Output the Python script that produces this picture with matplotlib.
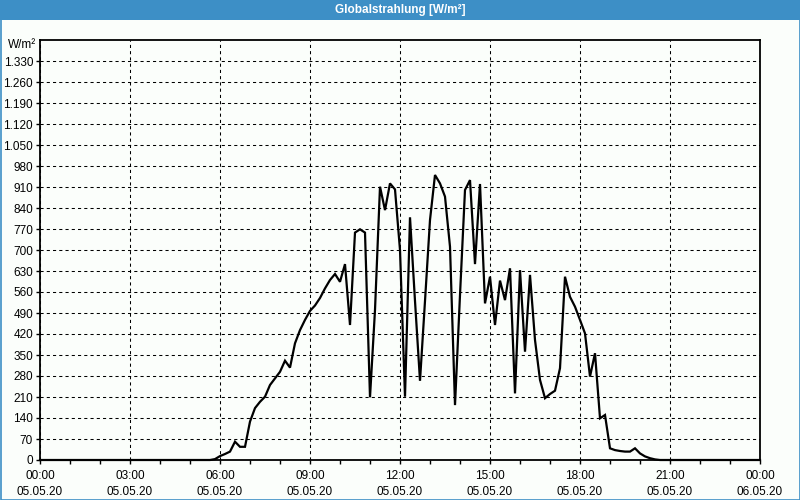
import matplotlib
matplotlib.use("Agg")
import matplotlib.pyplot as plt
from matplotlib.patches import Rectangle
from matplotlib.ticker import MultipleLocator

# ---- data ----
times = ["00:00", "05:40", "05:50", "06:00", "06:10", "06:20", "06:30", "06:40", "06:50",
         "07:00", "07:10", "07:20", "07:30", "07:40", "07:50", "08:00", "08:10", "08:20",
         "08:30", "08:40", "08:50", "09:00", "09:10", "09:20", "09:30", "09:40", "09:50",
         "10:00", "10:10", "10:20", "10:30", "10:40", "10:50", "11:00", "11:10", "11:20",
         "11:30", "11:40", "11:50", "12:00", "12:10", "12:20", "12:30", "12:40", "12:50",
         "13:00", "13:10", "13:20", "13:30", "13:40", "13:50", "14:00", "14:10", "14:20",
         "14:30", "14:40", "14:50", "15:00", "15:10", "15:20", "15:30", "15:40", "15:50",
         "16:00", "16:10", "16:20", "16:30", "16:40", "16:50", "17:00", "17:10", "17:20",
         "17:30", "17:40", "17:50", "18:00", "18:10", "18:20", "18:30", "18:40", "18:50",
         "19:00", "19:10", "19:20", "19:30", "19:40", "19:50", "20:00", "20:10", "20:20",
         "20:30", "20:40", "24:00"]
values = [0, 0, 3, 13, 20, 28, 61, 44, 44,
          128, 173, 194, 211, 250, 272, 294, 331, 308,
          389, 433, 467, 497, 515, 540, 572, 600, 620,
          594, 653, 450, 758, 769, 758, 209, 500, 911,
          833, 922, 902, 700, 211, 809, 530, 264, 530,
          800, 950, 922, 878, 711, 183, 550, 900, 933,
          653, 920, 522, 611, 450, 598, 533, 639, 222,
          633, 361, 617, 400, 267, 206, 220, 231, 306,
          611, 544, 511, 467, 422, 278, 356, 139, 150,
          39, 33, 30, 28, 28, 39, 22, 12, 6,
          2, 0, 0]
y_ticks = list(range(0, 1331, 70))
x_tick_hours = [0, 3, 6, 9, 12, 15, 18, 21, 24]
x_tick_labels = ["00:00\n05.05.20", "03:00\n05.05.20", "06:00\n05.05.20", "09:00\n05.05.20",
                 "12:00\n05.05.20", "15:00\n05.05.20", "18:00\n05.05.20", "21:00\n05.05.20",
                 "00:00\n06.05.20"]
title = "Globalstrahlung [W/m²]"
unit = "W/m²"

hours = [int(t[:2]) + int(t[3:]) / 60 for t in times]

plt.rcParams['font.family'] = ['Liberation Sans', 'DejaVu Sans']
bg = "#FBFEFB"
blue = "#3D8FC6"

fig = plt.figure(figsize=(8, 5), dpi=100, facecolor=bg)
ax = fig.add_axes([40/800, 40/500, 720/800, 420/500], facecolor=bg)

ax.plot(hours, values, color="black", lw=1.6, solid_joinstyle="miter", zorder=3, clip_on=False)

ax.set_xlim(0, 24)
ax.set_ylim(0, 1400)
ax.set_yticks(y_ticks)
ax.set_yticklabels([f"{v:,}".replace(",", ".") for v in y_ticks])
ax.set_xticks(x_tick_hours)
ax.set_xticklabels(x_tick_labels, linespacing=1.45)
ax.xaxis.set_minor_locator(MultipleLocator(1))

ax.grid(True, which="major", color="black", linestyle=(0, (3, 3)), linewidth=0.75)
ax.tick_params(axis="both", which="both", direction="out", length=3, width=1,
               labelsize=8.5, colors="black", pad=2)
ax.tick_params(axis="x", pad=4)
for s in ax.spines.values():
    s.set_linewidth(1.3)
    s.set_color("black")

ax.text(-0.006, 1382, unit, transform=ax.get_yaxis_transform(), ha="right", va="center",
        fontsize=8.5, color="black")

# title bar and border
fig.patches.append(Rectangle((0, 480/500), 1, 20/500, transform=fig.transFigure,
                             facecolor=blue, edgecolor="none", zorder=0))
fig.patches.append(Rectangle((0.5/800, 0.5/500), 799/800, 499/500, transform=fig.transFigure,
                             facecolor="none", edgecolor=blue, linewidth=1.2, zorder=5))
fig.text(0.5, 490/500, title, ha="center", va="center", color="white", fontsize=8.5,
         fontweight="bold")

fig.savefig("out.png", dpi=100, facecolor=bg)
